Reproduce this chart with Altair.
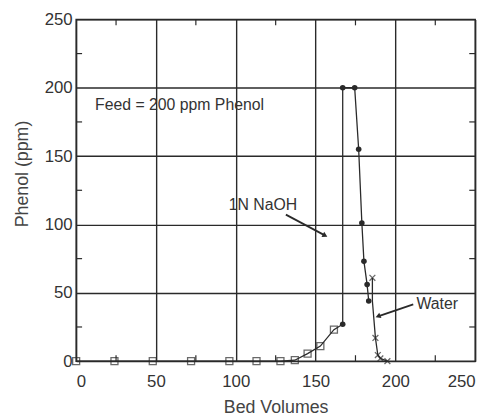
import altair as alt
import pandas as pd

# ---- data ----
load_x = [0, 24, 48, 72, 96, 113, 128, 137, 145, 153, 161.5]
load_y = [0, 0, 0, 0, 0, 0, 0, 0.7, 5.5, 11, 23]

naoh_x = [167, 167, 174.5, 177, 179, 180.3, 182.3, 183.3]
naoh_y = [27, 200, 200, 155, 101, 73, 56, 44]

water_x = [185.6, 185.6, 187.5, 189, 190.6, 195]
water_y = [61, 44, 17, 4.5, 2, 0]
water_mark = [1, 0, 1, 1, 1, 1]

minor_ticks = [25, 75, 125, 175, 225]
major_ticks = [0, 50, 100, 150, 200, 250]

# annotations
feed_text = "Feed = 200 ppm Phenol"
feed_pos = (11.8, 187)
naoh_text = "1N NaOH"
naoh_text_pos = (117, 114)
naoh_arrow = [(131.4, 107.2), (155.5, 92.2)]
naoh_head_angle = 118
water_text = "Water"
water_text_pos = (213.2, 41.5)
water_arrow = [(211.2, 41.5), (189.6, 33.0)]
water_head_angle = 248

W, H = 404, 346
INK = "#2a2a2a"
FONT = "Liberation Sans"

rows = []
o = 0
for x, y in zip(load_x, load_y):
    rows.append(dict(x=x, y=y, line="main", shape="square", mark=1, o=o)); o += 1
for x, y in zip(naoh_x, naoh_y):
    rows.append(dict(x=x, y=y, line="main", shape="circle", mark=1, o=o)); o += 1
for x, y, m in zip(water_x, water_y, water_mark):
    rows.append(dict(x=x, y=y, line="water", shape="x", mark=m, o=o)); o += 1
df = pd.DataFrame(rows)

xs = alt.Scale(domain=[0, 250], nice=False, zero=False)
ys = alt.Scale(domain=[0, 250], nice=False, zero=False)

common = dict(values=major_ticks, grid=True, gridColor=INK, gridWidth=1.4,
              tickSize=0, domain=False,
              labelFont=FONT, labelFontSize=17, labelColor="#333",
              titleFont=FONT, titleFontSize=18, titleColor="#444",
              titleFontWeight="normal")
xaxis = alt.Axis(title="Bed Volumes", labelPadding=13, titlePadding=9, **common)
yaxis = alt.Axis(title="Phenol (ppm)", labelPadding=4,
                 titleX=-45, titleY=156, titleAngle=270, titleAlign="center",
                 titleBaseline="bottom", **common)

base = alt.Chart(df)

lines = base.mark_line(color=INK, strokeWidth=1.3).encode(
    x=alt.X("x:Q", scale=xs, axis=xaxis),
    y=alt.Y("y:Q", scale=ys, axis=yaxis),
    detail="line:N",
    order="o:Q",
)

squares = base.transform_filter("datum.shape == 'square'").mark_point(
    shape="square", filled=False, color=INK, size=50, strokeWidth=1.3
).encode(x=alt.X("x:Q", scale=xs), y=alt.Y("y:Q", scale=ys))

circles = base.transform_filter("datum.shape == 'circle'").mark_point(
    shape="circle", filled=True, color=INK, size=32, opacity=1
).encode(x=alt.X("x:Q", scale=xs), y=alt.Y("y:Q", scale=ys))

crosses = base.transform_filter("datum.shape == 'x' && datum.mark == 1").mark_point(
    shape="M-1,-1L1,1M-1,1L1,-1", filled=False, color=INK, size=35, strokeWidth=1.3
).encode(x=alt.X("x:Q", scale=xs), y=alt.Y("y:Q", scale=ys))

tdf = pd.DataFrame({"t": minor_ticks})
tk = dict(color=INK, strokeWidth=1.2)
tick_top = alt.Chart(tdf).mark_rule(**tk).encode(
    x=alt.X("t:Q", scale=xs), y=alt.value(0), y2=alt.value(6))
tick_bot = alt.Chart(tdf).mark_rule(**tk).encode(
    x=alt.X("t:Q", scale=xs), y=alt.value(H - 6), y2=alt.value(H))
tick_left = alt.Chart(tdf).mark_rule(**tk).encode(
    y=alt.Y("t:Q", scale=ys), x=alt.value(0), x2=alt.value(6))
tick_right = alt.Chart(tdf).mark_rule(**tk).encode(
    y=alt.Y("t:Q", scale=ys), x=alt.value(W - 6), x2=alt.value(W))

txt_df = pd.DataFrame([
    dict(x=feed_pos[0], y=feed_pos[1], t=feed_text, a="left"),
    dict(x=naoh_text_pos[0], y=naoh_text_pos[1], t=naoh_text, a="center"),
    dict(x=water_text_pos[0], y=water_text_pos[1], t=water_text, a="left"),
])
texts_left = alt.Chart(txt_df).transform_filter("datum.a == 'left'").mark_text(
    align="left", baseline="middle", font=FONT, fontSize=16, color="#333"
).encode(x=alt.X("x:Q", scale=xs), y=alt.Y("y:Q", scale=ys), text="t:N")
texts_center = alt.Chart(txt_df).transform_filter("datum.a == 'center'").mark_text(
    align="center", baseline="middle", font=FONT, fontSize=16, color="#333"
).encode(x=alt.X("x:Q", scale=xs), y=alt.Y("y:Q", scale=ys), text="t:N")

arr_df = pd.DataFrame([
    dict(x=naoh_arrow[0][0], y=naoh_arrow[0][1], g="n", o=0),
    dict(x=naoh_arrow[1][0], y=naoh_arrow[1][1], g="n", o=1),
    dict(x=water_arrow[0][0], y=water_arrow[0][1], g="w", o=0),
    dict(x=water_arrow[1][0], y=water_arrow[1][1], g="w", o=1),
])
arrow_lines = alt.Chart(arr_df).mark_line(color=INK, strokeWidth=1.8).encode(
    x=alt.X("x:Q", scale=xs), y=alt.Y("y:Q", scale=ys), detail="g:N", order="o:Q")

head_df = pd.DataFrame([
    dict(x=naoh_arrow[1][0], y=naoh_arrow[1][1], ang=naoh_head_angle),
    dict(x=water_arrow[1][0], y=water_arrow[1][1], ang=water_head_angle),
])
arrow_heads = alt.Chart(head_df).mark_point(
    shape="triangle", filled=True, color=INK, size=35, opacity=1
).encode(x=alt.X("x:Q", scale=xs), y=alt.Y("y:Q", scale=ys),
         angle=alt.Angle("ang:Q", scale=None))

chart = alt.layer(
    lines, squares, circles, crosses,
    tick_top, tick_bot, tick_left, tick_right,
    texts_left, texts_center, arrow_lines, arrow_heads,
).properties(
    width=W, height=H,
    autosize=alt.AutoSizeParams(type="none"),
    padding={"left": 69, "top": 9, "right": 15, "bottom": 55},
).configure_view(
    stroke=INK, strokeWidth=1.5
)

chart.save("out.html", embed_options={"renderer": "svg", "actions": False})
